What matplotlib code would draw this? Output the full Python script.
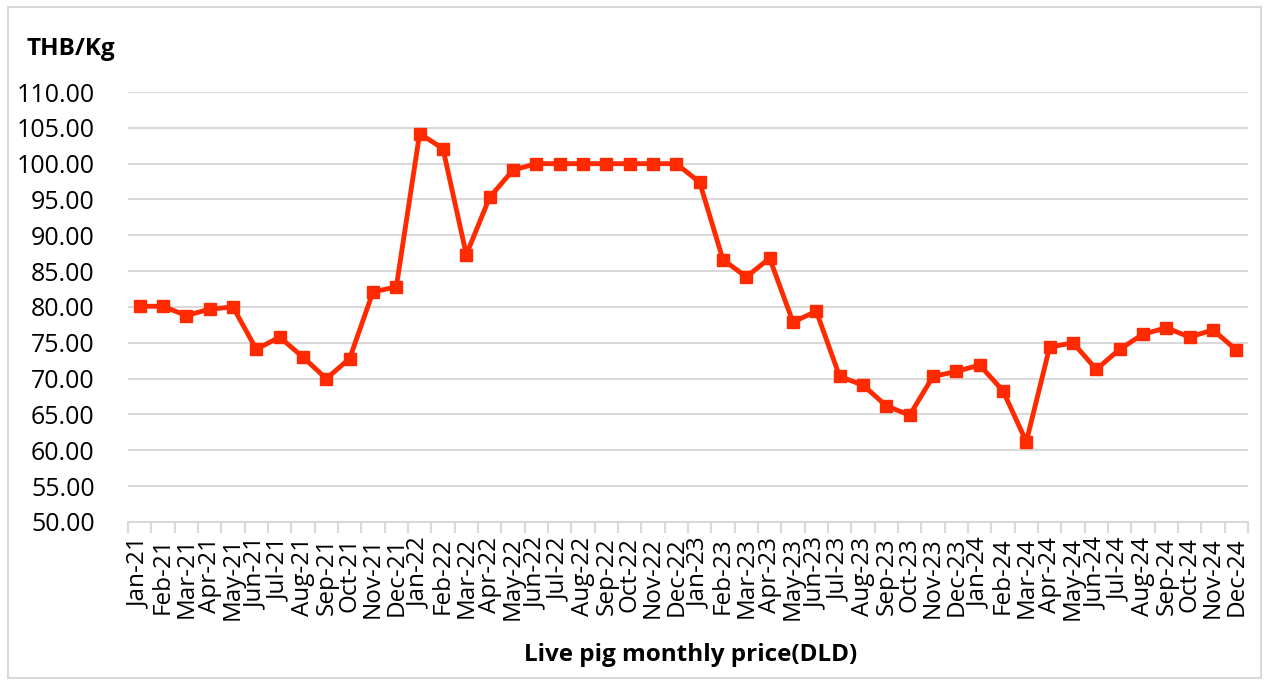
"""
Live pig monthly price (DLD), Jan 2021 - Dec 2024, in THB/Kg.
"""

import matplotlib
matplotlib.use("Agg")
from matplotlib import pyplot as plt
from matplotlib.patches import Rectangle

months = ["Jan", "Feb", "Mar", "Apr", "May", "Jun",
          "Jul", "Aug", "Sep", "Oct", "Nov", "Dec"]
years = ["21", "22", "23", "24"]
labels = [m + "-" + y for y in years for m in months]

price_2021 = [80.1, 80.1, 78.8, 79.7, 80.0, 74.1, 75.8, 73.0, 70.0, 72.8, 82.1, 82.8]
price_2022 = [104.2, 102.1, 87.3, 95.3, 99.1, 100.0, 100.0, 100.0, 100.0, 100.0, 100.0, 100.0]
price_2023 = [97.4, 86.6, 84.2, 86.8, 77.9, 79.4, 70.3, 69.1, 66.2, 64.9, 70.3, 71.0]
price_2024 = [71.9, 68.3, 61.2, 74.4, 75.0, 71.3, 74.1, 76.2, 77.1, 75.8, 76.8, 74.0]
prices = price_2021 + price_2022 + price_2023 + price_2024

red = "#FF2A00"
grid_col = "#D9D9D9"

plt.rcParams['font.family'] = ['Open Sans', 'DejaVu Sans']

fig = plt.figure(figsize=(12.67, 6.8), dpi=100)
ax = fig.add_axes([0.101, 0.2324, 0.884, 0.6323])

x = list(range(len(prices)))
ax.plot(x, prices, color=red, linewidth=3.5, marker="s", markersize=9,
        markerfacecolor=red, markeredgecolor=red, zorder=3)

ax.set_ylim(50, 110)
ax.set_yticks(range(50, 111, 5))
ax.set_yticklabels(["%.2f" % v for v in range(50, 111, 5)], fontsize=18)
ax.set_xlim(-0.5, len(prices) - 0.5)

# labels at the centres, tick marks between the categories
ax.set_xticks(x)
ax.set_xticklabels(labels, rotation=90, fontsize=17.5)
ax.set_xticks([i - 0.5 for i in range(len(prices) + 1)], minor=True)
ax.tick_params(axis="x", which="major", length=0, pad=11)
ax.tick_params(axis="x", which="minor", length=8, color=grid_col, width=1.5)
ax.tick_params(axis="y", length=0, pad=24)

ax.grid(axis="y", color=grid_col, linewidth=1.5)
ax.set_axisbelow(True)
for s in ["left", "right", "top"]:
    ax.spines[s].set_visible(False)
ax.spines["bottom"].set_color(grid_col)
ax.spines["bottom"].set_linewidth(1.5)

fig.text(0.021, 0.928, "THB/Kg", fontsize=17.5, fontweight="bold", va="center")
fig.text(0.545, 0.037, "Live pig monthly price(DLD)", fontsize=17.5,
         fontweight="bold", ha="center", va="center")

fig.patches.append(Rectangle((0.006, 0.003), 0.989, 0.986, transform=fig.transFigure,
                             fill=False, edgecolor="#D9D9D9", linewidth=1.5))

plt.savefig("out.png", dpi=100)
